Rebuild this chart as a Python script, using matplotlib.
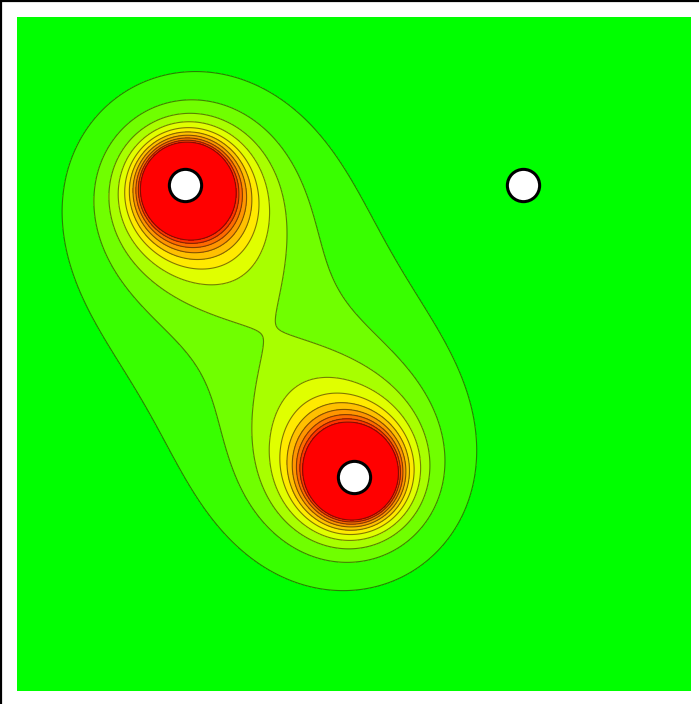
import numpy as np
import matplotlib
matplotlib.use("Agg")
import matplotlib.pyplot as plt
from matplotlib.lines import Line2D

# source points (unit square, y up) and their strength; the 3rd one carries no charge
src_x = [0.249, 0.751, 0.5]
src_y = [0.751, 0.751, 0.317]
src_w = [1.0, 0.0, 1.0]

# contour thresholds
levels = [84, 168, 252, 336, 420, 500, 578, 655, 732, 805]
band_colors = ['#00ff00', '#38ff00', '#70ff00', '#a8ff00', '#e0ff00', '#ffea00',
               '#ffc000', '#ff9500', '#ff6a00', '#ff3500', '#ff0000']

# --- field ---
n = 700
xs = np.linspace(0, 1, n)
ys = np.linspace(0, 1, n)
X, Y = np.meshgrid(xs, ys)
logf = np.zeros_like(X)
for x0, y0, w in zip(src_x, src_y, src_w):
    r2 = (X - x0) ** 2 + (Y - y0) ** 2 + 1e-12
    logf -= w * np.log(r2)
Z = np.exp(np.minimum(logf, np.log(1e6)))

# --- figure ---
fig = plt.figure(figsize=(6.99, 7.04), dpi=100)
ax = fig.add_axes([17 / 699, 13 / 704, 674 / 699, 674 / 704])

bounds = [0] + levels + [1e7]
ax.contourf(X, Y, Z, levels=bounds, colors=band_colors)
ax.contour(X, Y, Z, levels=levels, colors=[(0.1, 0.1, 0, 0.55)], linewidths=0.8)

ax.scatter(src_x, src_y, s=540, c='white', edgecolors='black', linewidths=2.2, zorder=5)

ax.set_xlim(0, 1)
ax.set_ylim(0, 1)
ax.set_xticks([])
ax.set_yticks([])
for sp in ax.spines.values():
    sp.set_visible(False)

# outer frame (only top and left edges are visible in the crop)
fig.add_artist(Line2D([1 / 699, 1], [1 - 1 / 704, 1 - 1 / 704], color='black', lw=1.6))
fig.add_artist(Line2D([1 / 699, 1 / 699], [0, 1 - 1 / 704], color='black', lw=1.6))

fig.savefig('out.png', dpi=100)
